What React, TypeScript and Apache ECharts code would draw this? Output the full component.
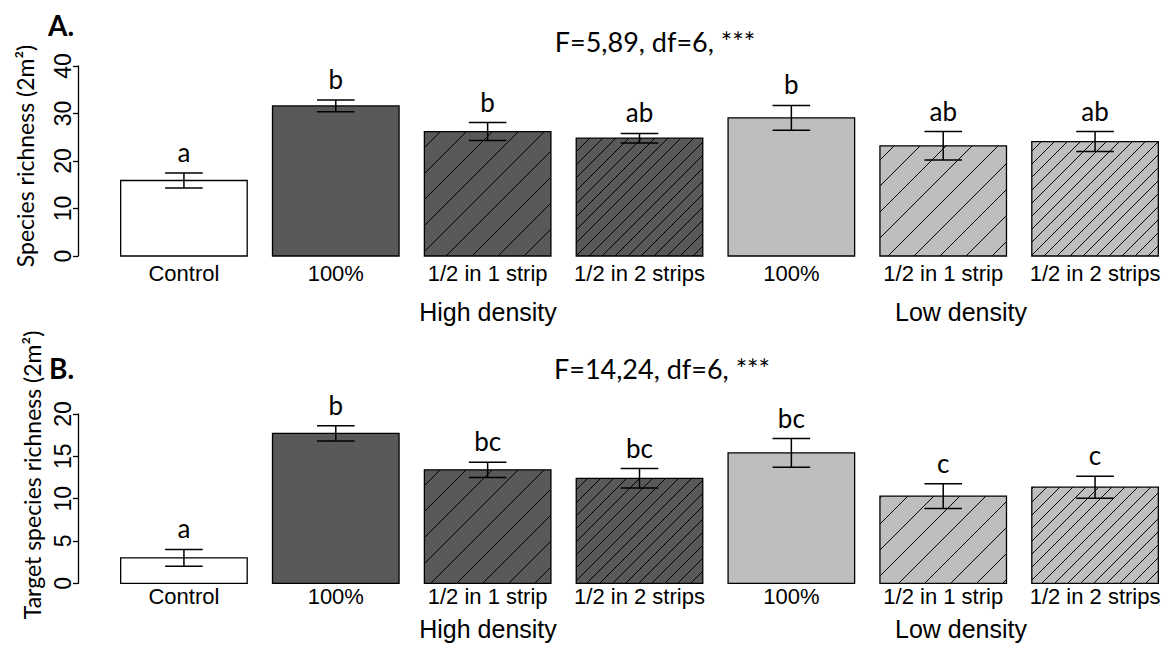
import React, { useEffect, useRef } from 'react';
import * as echarts from 'echarts';

const categories = ['Control', '100%', '1/2 in 1 strip', '1/2 in 2 strips', '100%', '1/2 in 1 strip', '1/2 in 2 strips'];
const fillColors = ['#ffffff', '#595959', '#595959', '#595959', '#bebebe', '#bebebe', '#bebebe'];
const hatchSpacing = [0, 0, 26, 13, 0, 26, 13];

const meanA = [15.9, 31.6, 26.2, 24.8, 29.1, 23.2, 24.1];
const seA = [1.6, 1.25, 1.9, 1.0, 2.6, 3.0, 2.1];
const lettersA = ['a', 'b', 'b', 'ab', 'b', 'ab', 'ab'];

const meanB = [3.0, 17.7, 13.4, 12.4, 15.4, 10.3, 11.35];
const seB = [1.0, 0.9, 0.9, 1.15, 1.7, 1.45, 1.3];
const lettersB = ['a', 'b', 'bc', 'bc', 'bc', 'c', 'c'];

const yMaxA = 40;
const yStepA = 10;
const yMaxB = 20;
const yStepB = 5;

const groupLabels = ['High density', 'Low density'];
const panelLabels = ['A.', 'B.'];
const statTitles = ['F=5,89, df=6, ***', 'F=14,24, df=6, ***'];
const yTitles = ['Species richness (2m²)', 'Target species richness (2m²)'];

const SANS = '"Liberation Sans", Arial, sans-serif';
const CAL = 'Lato, "Noto Sans", sans-serif';

function makeRender(letters: string[]) {
  return (params: any, api: any) => {
    const i = api.value(0);
    const v = api.value(1);
    const e = api.value(2);
    const top = api.coord([i, v]);
    const base = api.coord([i, 0]);
    const band = api.size([1, 0])[0];
    const bw = band / 1.2;
    const x0 = top[0] - bw / 2;
    const x1 = top[0] + bw / 2;
    const y0 = top[1];
    const y1 = base[1];
    const children: any[] = [];
    children.push({
      type: 'rect',
      shape: { x: x0, y: y0, width: bw, height: y1 - y0 },
      style: { fill: fillColors[i], stroke: 'none' },
    });
    const s = hatchSpacing[i];
    if (s > 0) {
      const cMin = x0 + y0;
      const cMax = x1 + y1;
      for (let c = Math.ceil(cMin / s) * s; c <= cMax; c += s) {
        const xa = Math.max(x0, c - y1);
        const xb = Math.min(x1, c - y0);
        if (xb - xa > 0.5) {
          children.push({
            type: 'line',
            shape: { x1: xa, y1: c - xa, x2: xb, y2: c - xb },
            style: { stroke: '#000', lineWidth: 1 },
          });
        }
      }
    }
    children.push({
      type: 'rect',
      shape: { x: x0, y: y0, width: bw, height: y1 - y0 },
      style: { fill: 'none', stroke: '#000', lineWidth: 1.3 },
    });
    const hi = api.coord([i, v + e]);
    const lo = api.coord([i, v - e]);
    const cx = top[0];
    const cap = 18.8;
    const es = { stroke: '#000', lineWidth: 1.5 };
    children.push({ type: 'line', shape: { x1: cx, y1: hi[1], x2: cx, y2: lo[1] }, style: es });
    children.push({ type: 'line', shape: { x1: cx - cap, y1: hi[1], x2: cx + cap, y2: hi[1] }, style: es });
    children.push({ type: 'line', shape: { x1: cx - cap, y1: lo[1], x2: cx + cap, y2: lo[1] }, style: es });
    children.push({
      type: 'text',
      x: cx,
      y: hi[1] - 8,
      style: {
        text: letters[params.dataIndex],
        align: 'center',
        verticalAlign: 'bottom',
        fontSize: 26,
        fontFamily: CAL,
        fill: '#000',
      },
    });
    return { type: 'group', children };
  };
}

export default function App() {
  const ref = useRef<HTMLDivElement>(null);
  useEffect(() => {
    if (!ref.current) return;
    const chart = echarts.init(ref.current, undefined, { renderer: 'svg' });
    const dataA = meanA.map((m, i) => [i, m, seA[i]]);
    const dataB = meanB.map((m, i) => [i, m, seB[i]]);
    const yAxisBase = (max: number, step: number, gridIndex: number) => ({
      type: 'value',
      gridIndex,
      min: 0,
      max,
      interval: step,
      offset: 30,
      axisLine: { show: true, lineStyle: { color: '#000', width: 1.3 } },
      axisTick: { show: true, length: 5, lineStyle: { color: '#000', width: 1.3 } },
      splitLine: { show: false },
      axisLabel: { rotate: 90, fontSize: 23, fontFamily: SANS, color: '#000', margin: 4 },
    });
    const xAxisBase = (gridIndex: number, margin: number) => ({
      type: 'category',
      gridIndex,
      data: categories,
      axisLine: { show: false },
      axisTick: { show: false },
      axisLabel: { interval: 0, fontSize: 22, fontFamily: SANS, color: '#000', margin },
    });
    const textEl = (text: string, x: number, y: number, size: number, family: string, extra: any = {}) => ({
      type: 'text',
      x,
      y,
      ...extra,
      style: {
        text,
        align: extra.align || 'center',
        verticalAlign: 'middle',
        fontSize: size,
        fontFamily: family,
        fontWeight: extra.fontWeight || 'normal',
        fill: '#000',
      },
    });
    chart.setOption({
      animation: false,
      backgroundColor: '#fff',
      grid: [
        { left: 108, top: 66, width: 1067, height: 190 },
        { left: 108, top: 414, width: 1067, height: 169.3 },
      ],
      xAxis: [xAxisBase(0, 6), xAxisBase(1, 2)],
      yAxis: [yAxisBase(yMaxA, yStepA, 0), yAxisBase(yMaxB, yStepB, 1)],
      series: [
        { type: 'custom', xAxisIndex: 0, yAxisIndex: 0, data: dataA, renderItem: makeRender(lettersA) },
        { type: 'custom', xAxisIndex: 1, yAxisIndex: 1, data: dataB, renderItem: makeRender(lettersB) },
      ],
      graphic: [
        textEl(panelLabels[0], 48, 25, 28, CAL, { align: 'left', fontWeight: 'bold' }),
        textEl(panelLabels[1], 49, 368, 28, CAL, { align: 'left', fontWeight: 'bold' }),
        textEl(statTitles[0], 655, 41, 27, CAL),
        textEl(statTitles[1], 662, 368, 27, CAL),
        textEl(yTitles[0], 25, 156, 23, CAL, { rotation: Math.PI / 2 }),
        textEl(yTitles[1], 32, 475, 23, CAL, { rotation: Math.PI / 2 }),
        textEl(groupLabels[0], 488, 312, 25, SANS),
        textEl(groupLabels[1], 961, 312, 25, SANS),
        textEl(groupLabels[0], 488, 629, 25, SANS),
        textEl(groupLabels[1], 961, 629, 25, SANS),
      ],
    });
    return () => chart.dispose();
  }, []);
  return <div ref={ref} style={{ position: 'absolute', left: 0, top: 0, width: 1171, height: 650 }} />;
}
